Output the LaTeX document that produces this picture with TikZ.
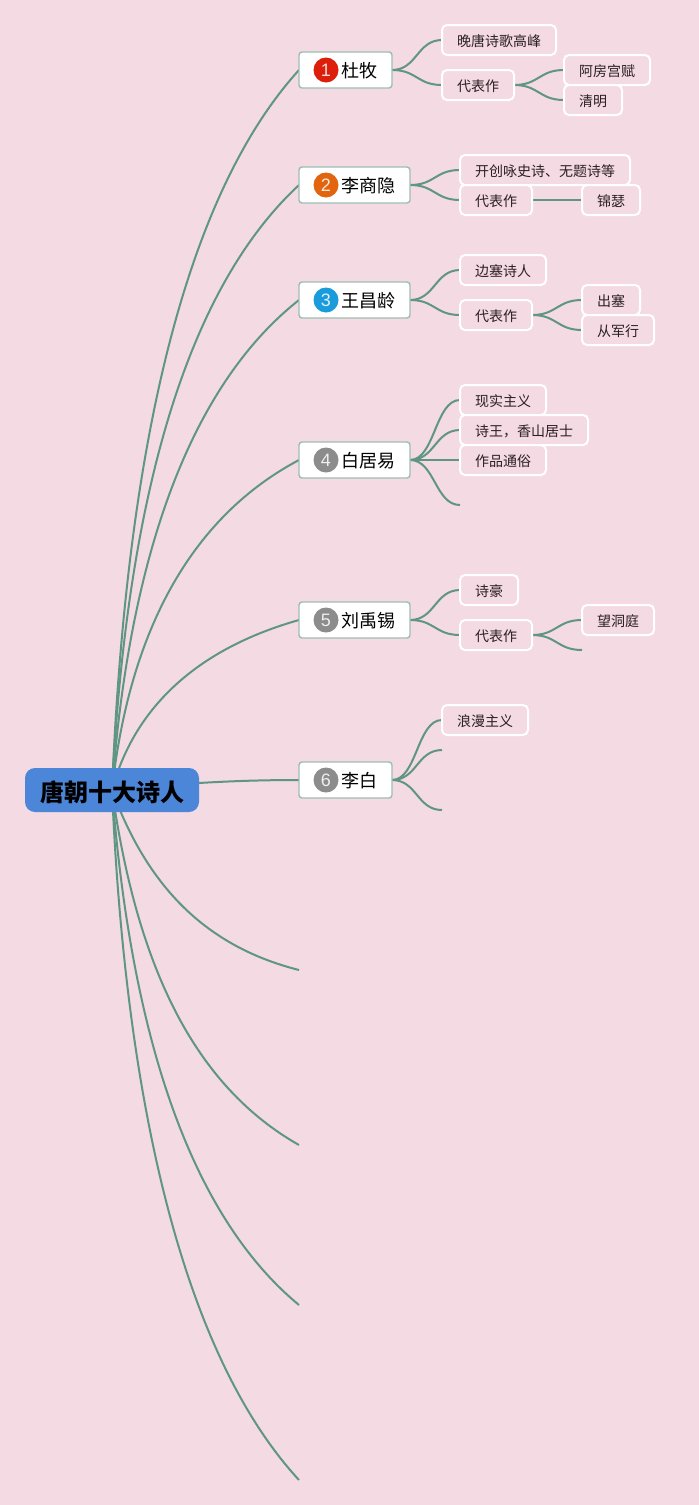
\documentclass[tikz,border=0pt]{standalone}
\usepackage{fontspec}
\setmainfont{Noto Sans CJK SC}
\newfontfamily\numfont{Liberation Sans}
\usetikzlibrary{backgrounds}
\definecolor{bgpink}{HTML}{F4DAE2}
\definecolor{linkgreen}{HTML}{5F9683}
\definecolor{mainborder}{HTML}{9DBDB2}
\definecolor{rootblue}{HTML}{4C86D8}
\definecolor{subtext}{HTML}{2A1F22}
\definecolor{badgered}{HTML}{DD1E0A}
\definecolor{badgeorange}{HTML}{E3640F}
\definecolor{badgeblue}{HTML}{1A9BDC}
\definecolor{badgegray}{HTML}{8C8C8C}
\tikzset{
  rootbox/.style={fill=rootblue,draw=none,rounded corners=5pt,minimum width=87pt,minimum height=22pt,inner sep=0pt,outer sep=0pt,text height=12pt,text depth=0.9pt,font=\fontsize{12}{14}\selectfont\bfseries,text=black},
  mainbox/.style={anchor=west,fill=white,draw=mainborder,line width=0.7pt,rounded corners=1.5pt,minimum height=18pt,inner sep=0pt,outer sep=0pt,text height=9pt,text depth=1.16pt,font=\fontsize{9}{11}\selectfont,text=black},
  subbox/.style={anchor=west,fill=bgpink,draw=white,line width=1pt,rounded corners=2.5pt,minimum height=15pt,minimum width=#1*0.5pt,inner sep=0pt,outer sep=0pt,text height=7pt,text depth=0.7pt,font=\fontsize{7}{9}\selectfont,text=subtext},
  badge/.style={circle,fill=#1,draw=none,minimum size=12.5pt,inner sep=0pt,font=\fontsize{9}{10}\selectfont\numfont,text=white!85!#1},
  link/.style={draw=linkgreen,line width=1pt},
}
\newcommand{\mtxt}[2]{\makebox[#1pt][l]{\hspace{21pt}#2}}
\newcommand{\branch}[2]{\draw[link] (#1.east) .. controls +(25,0) and +(-25,0) .. (#2);}
\newcommand{\fan}[5]{\draw[link] (root.center) .. controls +(#2,#3) and +(#4,#5) .. (#1);}
\begin{document}
\begin{tikzpicture}[x=0.5pt,y=-0.5pt]
\useasboundingbox (0,0) rectangle (699,1505);
\begin{scope}[on background layer]
\fill[bgpink] (0,0) rectangle (699,1505);
\end{scope}
% root
\node[rootbox] (root) at (112,790) {唐朝十大诗人};
% main nodes
\node[mainbox] (m1) at (299,70) {\mtxt{46.5}{杜牧}};
\node[mainbox] (m2) at (299,185) {\mtxt{55.5}{李商隐}};
\node[mainbox] (m3) at (299,300) {\mtxt{55.5}{王昌龄}};
\node[mainbox] (m4) at (299,460) {\mtxt{55.5}{白居易}};
\node[mainbox] (m5) at (299,620) {\mtxt{55.5}{刘禹锡}};
\node[mainbox] (m6) at (299,780) {\mtxt{46.5}{李白}};
% badges
\node[badge=badgered] (b1) at (326,70) {1};
\node[badge=badgeorange] (b2) at (326,185) {2};
\node[badge=badgeblue] (b3) at (326,300) {3};
\node[badge=badgegray] (b4) at (326,460) {4};
\node[badge=badgegray] (b5) at (326,620) {5};
\node[badge=badgegray] (b6) at (326,780) {6};
% free ends
\coordinate (f7) at (299,970);
\coordinate (f8) at (299,1145);
\coordinate (f9) at (299,1305);
\coordinate (f10) at (299,1480);
\coordinate (e4) at (460,505);
\coordinate (e5) at (582,650);
\coordinate (e6a) at (442,750);
\coordinate (e6b) at (442,810);
% sub nodes
\node[subbox=114] (a1) at (442,40) {晚唐诗歌高峰};
\node[subbox=72] (a2) at (442,85) {代表作};
\node[subbox=86] (a3) at (564,70) {阿房宫赋};
\node[subbox=58] (a4) at (564,100) {清明};
\node[subbox=170] (c1) at (460,170) {开创咏史诗、无题诗等};
\node[subbox=72] (c2) at (460,200) {代表作};
\node[subbox=58] (c3) at (582,200) {锦瑟};
\node[subbox=86] (d1) at (460,270) {边塞诗人};
\node[subbox=72] (d2) at (460,315) {代表作};
\node[subbox=58] (d3) at (582,300) {出塞};
\node[subbox=72] (d4) at (582,330) {从军行};
\node[subbox=86] (g1) at (460,400) {现实主义};
\node[subbox=128] (g2) at (460,430) {诗王，香山居士};
\node[subbox=86] (g3) at (460,460) {作品通俗};
\node[subbox=58] (h1) at (460,590) {诗豪};
\node[subbox=72] (h2) at (460,635) {代表作};
\node[subbox=72] (h3) at (582,620) {望洞庭};
\node[subbox=86] (k1) at (442,720) {浪漫主义};
% connectors
\begin{scope}[on background layer]
\fan{m1.west}{15}{-360}{-109}{120}
\fan{m2.west}{15}{-302}{-109}{101}
\fan{m3.west}{18}{-245}{-104}{82}
\fan{m4.west}{18}{-165}{-104}{55}
\fan{m5.west}{23}{-85}{-99}{28}
\draw[link] (root.center) .. controls +(72,-7) and +(-60,0) .. (m6.west);
\fan{f7}{33}{90}{-99}{-25}
\fan{f8}{25}{178}{-104}{-59}
\fan{f9}{20}{258}{-104}{-86}
\fan{f10}{15}{345}{-106}{-115}
\branch{m1}{a1.west}
\branch{m1}{a2.west}
\branch{a2}{a3.west}
\branch{a2}{a4.west}
\branch{m2}{c1.west}
\branch{m2}{c2.west}
\branch{c2}{c3.west}
\branch{m3}{d1.west}
\branch{m3}{d2.west}
\branch{d2}{d3.west}
\branch{d2}{d4.west}
\branch{m4}{g1.west}
\branch{m4}{g2.west}
\branch{m4}{g3.west}
\branch{m4}{e4}
\branch{m5}{h1.west}
\branch{m5}{h2.west}
\branch{h2}{h3.west}
\branch{h2}{e5}
\branch{m6}{k1.west}
\branch{m6}{e6a}
\branch{m6}{e6b}
\end{scope}
\end{tikzpicture}
\end{document}
